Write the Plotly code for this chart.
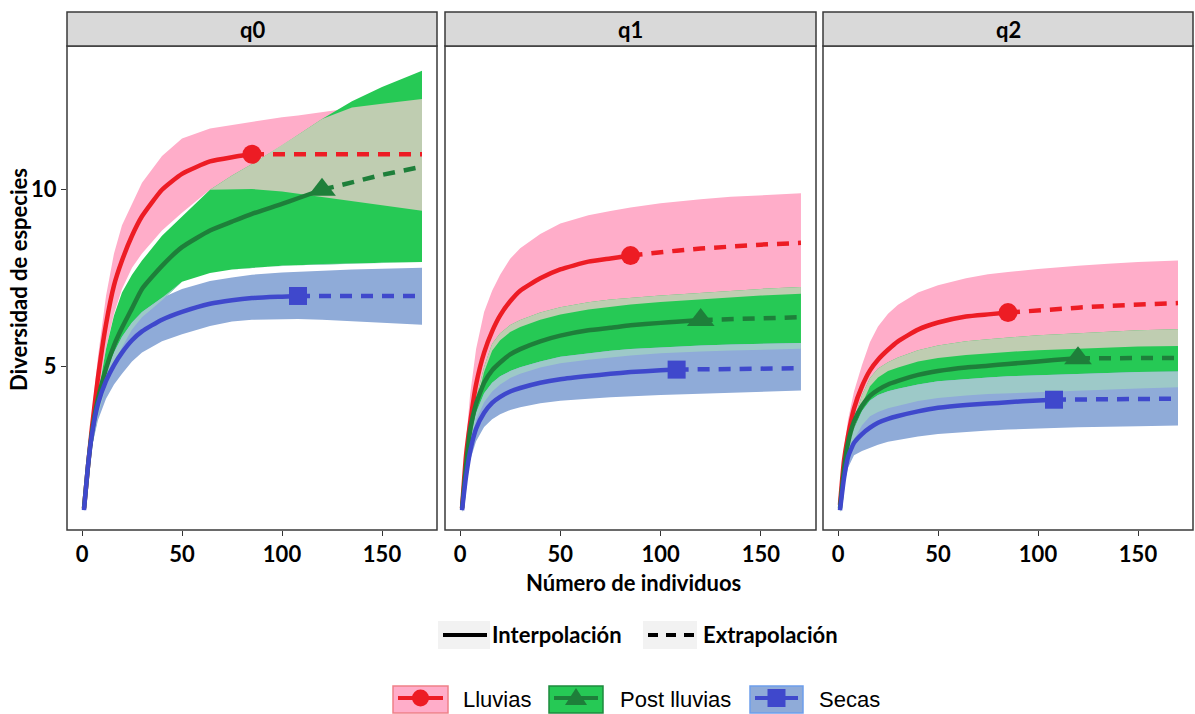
import plotly.graph_objects as go
import numpy as np

# ---------------- data ----------------
x_grid = [1, 3, 5, 8, 12, 16, 20, 25, 30, 40, 50, 64, 75, 85, 100, 108, 120, 135, 150, 170]
groups = ["Lluvias", "Post lluvias", "Secas"]
n_obs = [85, 120, 108]
panels = ["q0", "q1", "q2"]
x_ticks = [0, 50, 100, 150]
y_ticks = [5, 10]

# q0
q0_lluvias_mean = [1.0, 2.2, 3.3, 4.7, 6.2, 7.3, 8.0, 8.7, 9.25, 10.0, 10.45, 10.8, 10.92, 11.0, 11.0, 11.0, 11.0, 11.0, 11.0, 11.0]
q0_lluvias_hi = [1.1, 2.5, 3.7, 5.3, 7.0, 8.2, 9.0, 9.6, 10.2, 10.95, 11.45, 11.73, 11.83, 11.92, 12.05, 12.1, 12.2, 12.32, 12.43, 12.56]
q0_lluvias_lo = [0.95, 2.0, 3.0, 4.2, 5.5, 6.5, 7.2, 7.8, 8.2, 8.85, 9.35, 10.0, 10.02, 10.02, 9.95, 9.9, 9.8, 9.68, 9.57, 9.41]
q0_post_mean = [1.0, 2.2, 3.15, 4.1, 4.95, 5.6, 6.1, 6.65, 7.2, 7.85, 8.38, 8.85, 9.1, 9.32, 9.6, 9.76, 10.0, 10.22, 10.42, 10.65]
q0_post_hi = [1.0, 2.1, 3.0, 4.2, 5.5, 6.45, 7.1, 7.6, 8.0, 8.7, 9.25, 10.0, 10.4, 10.73, 11.25, 11.55, 12.0, 12.5, 12.9, 13.36]
q0_post_lo = [1.0, 1.95, 2.75, 3.6, 4.45, 5.05, 5.55, 6.05, 6.4, 6.88, 7.4, 7.65, 7.75, 7.8, 7.85, 7.87, 7.9, 7.92, 7.94, 7.96]
q0_secas_mean = [0.95, 2.2, 3.1, 3.95, 4.6, 5.05, 5.4, 5.75, 6.0, 6.33, 6.55, 6.78, 6.88, 6.94, 6.98, 7.0, 7.0, 7.0, 7.0, 7.0]
q0_secas_hi = [1.0, 2.3, 3.3, 4.2, 4.85, 5.4, 5.85, 6.25, 6.55, 6.95, 7.2, 7.42, 7.52, 7.6, 7.66, 7.68, 7.72, 7.75, 7.77, 7.8]
q0_secas_lo = [0.9, 2.0, 2.75, 3.5, 4.1, 4.5, 4.8, 5.15, 5.4, 5.72, 5.92, 6.15, 6.28, 6.33, 6.35, 6.35, 6.33, 6.3, 6.25, 6.19]

# q1
q1_lluvias_mean = [1.0, 2.5, 3.4, 4.5, 5.4, 6.0, 6.45, 6.85, 7.15, 7.5, 7.75, 7.97, 8.06, 8.14, 8.24, 8.28, 8.34, 8.4, 8.45, 8.5]
q1_lluvias_hi = [1.1, 2.9, 4.2, 5.5, 6.55, 7.15, 7.6, 8.05, 8.35, 8.75, 9.05, 9.28, 9.4, 9.5, 9.62, 9.67, 9.73, 9.8, 9.85, 9.9]
q1_lluvias_lo = [0.9, 2.1, 2.9, 3.95, 4.85, 5.45, 5.75, 5.98, 6.12, 6.33, 6.48, 6.62, 6.7, 6.76, 6.83, 6.86, 6.9, 6.96, 7.01, 7.06]
q1_post_mean = [1.0, 2.2, 3.2, 3.95, 4.55, 4.9, 5.12, 5.35, 5.5, 5.72, 5.88, 6.03, 6.1, 6.17, 6.24, 6.27, 6.32, 6.35, 6.37, 6.4]
q1_post_hi = [1.0, 2.3, 3.1, 4.1, 5.0, 5.65, 5.95, 6.18, 6.32, 6.53, 6.68, 6.82, 6.9, 6.95, 7.01, 7.04, 7.09, 7.14, 7.2, 7.25]
q1_post_lo = [0.9, 1.95, 2.8, 3.5, 4.0, 4.3, 4.5, 4.68, 4.8, 4.98, 5.1, 5.2, 5.27, 5.32, 5.38, 5.4, 5.43, 5.46, 5.49, 5.51]
q1_secas_mean = [0.95, 1.9, 2.6, 3.25, 3.7, 3.98, 4.15, 4.3, 4.4, 4.55, 4.65, 4.74, 4.8, 4.85, 4.9, 4.92, 4.93, 4.94, 4.95, 4.96]
q1_secas_hi = [1.0, 2.05, 2.9, 3.7, 4.25, 4.55, 4.73, 4.88, 4.99, 5.15, 5.28, 5.38, 5.45, 5.5, 5.55, 5.57, 5.6, 5.63, 5.65, 5.67]
q1_secas_lo = [0.9, 1.75, 2.35, 2.9, 3.3, 3.52, 3.66, 3.78, 3.86, 3.97, 4.04, 4.1, 4.14, 4.17, 4.2, 4.22, 4.24, 4.27, 4.3, 4.33]

# q2
q2_lluvias_mean = [1.1, 2.35, 3.05, 3.82, 4.45, 4.9, 5.2, 5.48, 5.72, 6.05, 6.25, 6.42, 6.48, 6.53, 6.6, 6.63, 6.67, 6.72, 6.76, 6.8]
q2_lluvias_hi = [1.2, 2.7, 3.5, 4.3, 5.05, 5.7, 6.14, 6.5, 6.75, 7.1, 7.3, 7.5, 7.61, 7.68, 7.76, 7.8, 7.85, 7.91, 7.96, 8.0]
q2_lluvias_lo = [1.0, 2.0, 2.6, 3.25, 3.95, 4.45, 4.7, 4.88, 4.98, 5.15, 5.25, 5.33, 5.38, 5.42, 5.47, 5.49, 5.51, 5.54, 5.57, 5.59]
q2_post_mean = [1.0, 2.1, 2.85, 3.45, 3.9, 4.18, 4.35, 4.5, 4.6, 4.77, 4.88, 4.98, 5.03, 5.08, 5.15, 5.19, 5.24, 5.25, 5.25, 5.25]
q2_post_hi = [1.0, 2.1, 2.8, 3.5, 4.2, 4.68, 4.95, 5.13, 5.26, 5.47, 5.6, 5.72, 5.78, 5.83, 5.89, 5.91, 5.95, 5.99, 6.03, 6.06]
q2_post_lo = [0.9, 1.85, 2.45, 2.95, 3.35, 3.6, 3.72, 3.83, 3.91, 4.03, 4.12, 4.19, 4.23, 4.26, 4.29, 4.3, 4.32, 4.36, 4.39, 4.42]
q2_secas_mean = [0.95, 1.85, 2.45, 2.85, 3.1, 3.28, 3.42, 3.53, 3.61, 3.74, 3.84, 3.92, 3.96, 4.0, 4.05, 4.07, 4.08, 4.09, 4.09, 4.1]
q2_secas_hi = [1.0, 2.0, 2.65, 3.25, 3.75, 4.05, 4.2, 4.31, 4.38, 4.5, 4.59, 4.66, 4.7, 4.73, 4.76, 4.77, 4.79, 4.82, 4.85, 4.87]
q2_secas_lo = [0.9, 1.65, 2.15, 2.5, 2.62, 2.72, 2.8, 2.88, 2.93, 3.03, 3.1, 3.16, 3.2, 3.23, 3.26, 3.27, 3.29, 3.31, 3.32, 3.34]

# ---------------- styles ----------------
band_colors = ["#FFADC9", "#26C955", "#8FABD8"]
line_colors = ["#ED1C24", "#1E7F3A", "#3F48CC"]
overlap_pg = "#BFCDB1"   # Lluvias ∩ Post lluvias
overlap_gs = "#9DC9C8"   # Post lluvias ∩ Secas
key_borders = ["#F08088", "#1E8A3E", "#6D9EEB"]
symbols = ["circle", "triangle-up", "square"]
marker_sizes = [19, 24, 18]

W, H = 1195, 714
def px(x):
    return x / W
def py(y):
    return 1 - y / H

panel_px = [(67, 437), (445, 816), (823, 1193)]
panel_top, panel_bot, strip_top = 46, 530, 12

data = {
    "q0": [(q0_lluvias_mean, q0_lluvias_lo, q0_lluvias_hi), (q0_post_mean, q0_post_lo, q0_post_hi), (q0_secas_mean, q0_secas_lo, q0_secas_hi)],
    "q1": [(q1_lluvias_mean, q1_lluvias_lo, q1_lluvias_hi), (q1_post_mean, q1_post_lo, q1_post_hi), (q1_secas_mean, q1_secas_lo, q1_secas_hi)],
    "q2": [(q2_lluvias_mean, q2_lluvias_lo, q2_lluvias_hi), (q2_post_mean, q2_post_lo, q2_post_hi), (q2_secas_mean, q2_secas_lo, q2_secas_hi)],
}

fig = go.Figure()
xg = np.array(x_grid, dtype=float)

def band(xa, ya, lo, hi, color):
    return go.Scatter(x=list(xg) + list(xg[::-1]), y=list(hi) + list(np.array(lo)[::-1]),
                      xaxis=xa, yaxis=ya, fill="toself", fillcolor=color, mode="lines",
                      line=dict(width=0, color=color), hoverinfo="skip", showlegend=False)

for k, pname in enumerate(panels):
    xa = "x" if k == 0 else f"x{k+1}"
    ya = "y" if k == 0 else f"y{k+1}"
    series = data[pname]
    for g in range(3):
        m, lo, hi = series[g]
        fig.add_trace(band(xa, ya, lo, hi, band_colors[g]))
    for (a, b, col) in [(0, 1, overlap_pg), (1, 2, overlap_gs)]:
        lo = np.maximum(np.array(series[a][1]), np.array(series[b][1]))
        hi = np.minimum(np.array(series[a][2]), np.array(series[b][2]))
        hi = np.maximum(hi, lo)
        fig.add_trace(band(xa, ya, lo, hi, col))
    for g in range(3):
        m = np.array(series[g][0])
        n = n_obs[g]
        inter = xg <= n
        extra = xg >= n
        fig.add_trace(go.Scatter(x=xg[inter], y=m[inter], xaxis=xa, yaxis=ya, mode="lines",
                                 line=dict(color=line_colors[g], width=4.5, shape="spline", smoothing=0.5),
                                 hoverinfo="skip", showlegend=False))
        fig.add_trace(go.Scatter(x=xg[extra], y=m[extra], xaxis=xa, yaxis=ya, mode="lines",
                                 line=dict(color=line_colors[g], width=4.5, dash="12px,9px"),
                                 hoverinfo="skip", showlegend=False))
        idx = list(x_grid).index(n)
        fig.add_trace(go.Scatter(x=[n], y=[m[idx]], xaxis=xa, yaxis=ya, mode="markers",
                                 marker=dict(symbol=symbols[g], size=marker_sizes[g], color=line_colors[g],
                                             line=dict(width=0)),
                                 hoverinfo="skip", showlegend=False))

bold_font = dict(family="Lato", size=22, color="black", weight="bold")
tick_font = dict(family="Lato", size=22, color="black", weight="bold")
layout = dict(width=W, height=H, paper_bgcolor="white", plot_bgcolor="white",
              margin=dict(l=0, r=0, t=0, b=0), showlegend=False)
for k in range(3):
    xk = "xaxis" if k == 0 else f"xaxis{k+1}"
    yk = "yaxis" if k == 0 else f"yaxis{k+1}"
    x0, x1 = panel_px[k]
    layout[xk] = dict(domain=[px(x0), px(x1)], range=[-7.5, 177.5], tickvals=x_ticks,
                      ticks="outside", ticklen=5, tickcolor="#333333", tickwidth=1,
                      showgrid=False, zeroline=False, showline=False, tickfont=tick_font,
                      anchor="y" if k == 0 else f"y{k+1}", fixedrange=True)
    layout[yk] = dict(domain=[py(panel_bot), py(panel_top)], range=[0.39, 14.06], tickvals=y_ticks,
                      ticks="outside" if k == 0 else "", ticklen=5, tickcolor="#333333", tickwidth=1,
                      showticklabels=(k == 0), showgrid=False, zeroline=False, showline=False,
                      tickfont=tick_font, anchor="x" if k == 0 else f"x{k+1}", fixedrange=True)
fig.update_layout(**layout)

shapes = []
annotations = []
border = "#3A3A3A"
for k, pname in enumerate(panels):
    x0, x1 = panel_px[k]
    shapes.append(dict(type="rect", xref="paper", yref="paper", x0=px(x0), x1=px(x1),
                       y0=py(panel_bot), y1=py(panel_top), line=dict(color=border, width=1.5),
                       fillcolor="rgba(0,0,0,0)", layer="above"))
    shapes.append(dict(type="rect", xref="paper", yref="paper", x0=px(x0), x1=px(x1),
                       y0=py(panel_top), y1=py(strip_top), line=dict(color=border, width=1.5),
                       fillcolor="#D9D9D9", layer="above"))
    annotations.append(dict(text=pname, xref="paper", yref="paper", x=px((x0 + x1) / 2),
                            y=py((strip_top + panel_top) / 2 + 1), showarrow=False,
                            font=bold_font, xanchor="center", yanchor="middle"))

annotations.append(dict(text="Número de individuos", xref="paper", yref="paper", x=px(633), y=py(582),
                        showarrow=False, font=bold_font, xanchor="center", yanchor="middle"))
annotations.append(dict(text="Diversidad de especies", xref="paper", yref="paper", x=px(19), y=py(280),
                        showarrow=False, textangle=-90, font=bold_font,
                        xanchor="center", yanchor="middle"))

# legend 1: line type
lt_keys = [(438, 490, "solid", "Interpolación", 490), (643, 697, "dash", "Extrapolación", 701)]
for (a, b, dash, label, tx) in lt_keys:
    shapes.append(dict(type="rect", xref="paper", yref="paper", x0=px(a), x1=px(b), y0=py(649), y1=py(621),
                       fillcolor="#F2F2F2", line=dict(width=0)))
    shapes.append(dict(type="line", xref="paper", yref="paper", x0=px(a + 5), x1=px(b - 3), y0=py(635), y1=py(635),
                       line=dict(color="black", width=4, dash="10px,8px" if dash == "dash" else "solid")))
    annotations.append(dict(text=label, xref="paper", yref="paper", x=px(tx), y=py(634), showarrow=False,
                            font=bold_font, xanchor="left", yanchor="middle"))

# legend 2: groups
grp_keys = [(393, 448, 461), (549, 603, 618), (750, 803, 817)]
for g, (a, b, tx) in enumerate(grp_keys):
    shapes.append(dict(type="rect", xref="paper", yref="paper", x0=px(a), x1=px(b), y0=py(713), y1=py(686),
                       fillcolor=band_colors[g], line=dict(color=key_borders[g], width=1.5)))
    shapes.append(dict(type="line", xref="paper", yref="paper", x0=px(a + 5), x1=px(b - 5), y0=py(698), y1=py(698),
                       line=dict(color=line_colors[g], width=4)))
    c = (a + b) / 2
    if g == 0:
        shapes.append(dict(type="circle", xref="paper", yref="paper", x0=px(c - 8.5), x1=px(c + 8.5),
                           y0=py(706.5), y1=py(689.5), fillcolor=line_colors[g], line=dict(width=0)))
    elif g == 1:
        path = f"M {px(c - 11)} {py(705)} L {px(c + 11)} {py(705)} L {px(c)} {py(688)} Z"
        shapes.append(dict(type="path", xref="paper", yref="paper", path=path,
                           fillcolor=line_colors[g], line=dict(width=0)))
    else:
        shapes.append(dict(type="rect", xref="paper", yref="paper", x0=px(c - 9), x1=px(c + 9),
                           y0=py(707), y1=py(689), fillcolor=line_colors[g], line=dict(width=0)))
    annotations.append(dict(text=groups[g], xref="paper", yref="paper", x=px(tx), y=py(699), showarrow=False,
                            font=dict(family="Liberation Sans", size=22, color="black"),
                            xanchor="left", yanchor="middle"))

fig.update_layout(shapes=shapes, annotations=annotations)
fig.write_html("out.html", config={"displayModeBar": False},
               post_script="document.body.style.margin='0';document.body.style.overflow='hidden';")
